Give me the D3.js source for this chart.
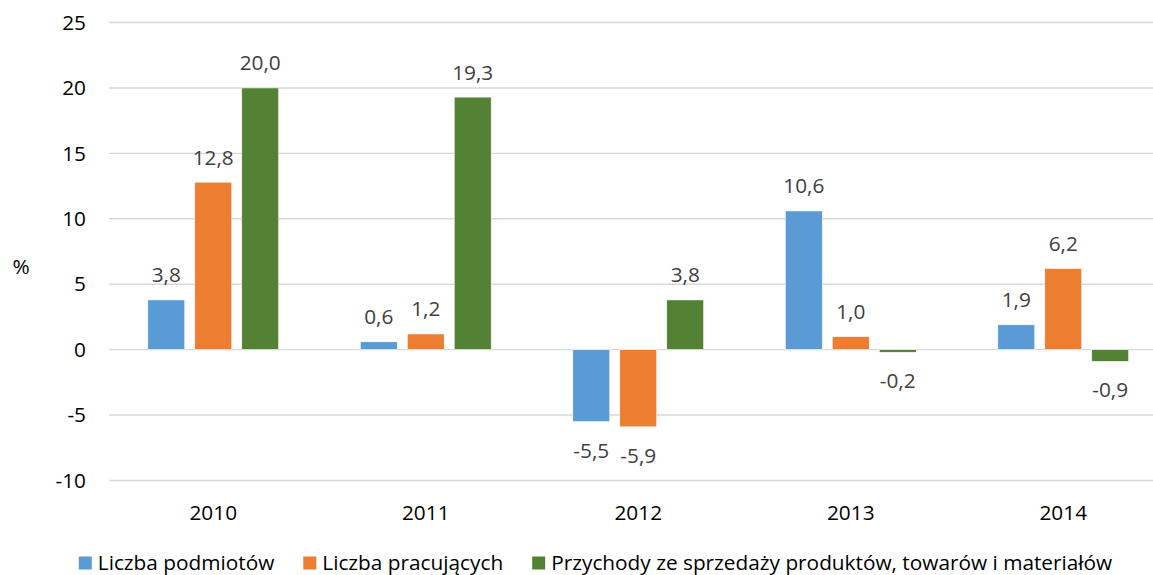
<!DOCTYPE html>
<html>
<head>
<meta charset="utf-8">
<script src="https://cdn.jsdelivr.net/npm/d3@7"></script>
<style>
  body { margin: 0; background: #fff; }
  svg { display: block; font-family: "Open Sans", sans-serif; }
</style>
</head>
<body>
<div id="chart"></div>
<script>
var years = ['2010', '2011', '2012', '2013', '2014'];
var seriesNames = ['Liczba podmiotów', 'Liczba pracujących', 'Przychody ze sprzedaży produktów, towarów i materiałów'];
var podmioty = [3.8, 0.6, -5.5, 10.6, 1.9];
var pracujacy = [12.8, 1.2, -5.9, 1.0, 6.2];
var przychody = [20.0, 19.3, 3.8, -0.2, -0.9];
var yTicks = [-10, -5, 0, 5, 10, 15, 20, 25];
var colors = ['#5b9bd5', '#ed7d31', '#548235'];

var svgWidth = 1153;
var svgHeight = 575;
var fontSize = 20.8;

var svg = d3.select('#chart')
  .append('svg')
  .attr('width', svgWidth)
  .attr('height', svgHeight);

// build rows from the arrays
var allSeries = [podmioty, pracujacy, przychody];
var rows = years.map(function(y, i) {
  return {
    year: y,
    values: seriesNames.map(function(s, j) { return { key: s, idx: j, value: allSeries[j][i] }; })
  };
});

// the plot runs past the right edge, like in the original
var x0 = d3.scaleBand()
  .domain(years)
  .range([107, 1169.5])
  .paddingInner(0.384)
  .paddingOuter(0.192);

var x1 = d3.scaleBand()
  .domain(seriesNames)
  .range([0, x0.bandwidth()])
  .paddingInner(0.213);

var y = d3.scaleLinear()
  .domain([-10, 25])
  .range([480.5, 22.5]);

// gridlines
svg.append('g')
  .selectAll('line')
  .data(yTicks)
  .enter()
  .append('line')
  .attr('x1', 109)
  .attr('x2', 1170)
  .attr('y1', d => y(d))
  .attr('y2', d => y(d))
  .attr('stroke', '#d9d9d9')
  .attr('stroke-width', 1.4);

// y axis labels
var leftAxis = d3.axisLeft(y)
  .tickValues(yTicks)
  .tickFormat(d => String(d))
  .tickSize(0)
  .tickPadding(0);
var yAxisG = svg.append('g')
  .attr('transform', 'translate(86, 0)')
  .call(leftAxis);
yAxisG.select('.domain').remove();
yAxisG.selectAll('text')
  .attr('font-size', fontSize)
  .attr('font-family', '"Open Sans", sans-serif')
  .attr('fill', '#000');

// x axis labels
var bottomAxis = d3.axisBottom(x0).tickSize(0).tickPadding(0);
var xAxisG = svg.append('g')
  .attr('transform', 'translate(0, 520)')
  .call(bottomAxis);
xAxisG.select('.domain').remove();
xAxisG.selectAll('text')
  .attr('dy', 0)
  .attr('font-size', fontSize)
  .attr('font-family', '"Open Sans", sans-serif')
  .attr('fill', '#000');

// bars
var groups = svg.append('g')
  .selectAll('g')
  .data(rows)
  .enter()
  .append('g')
  .attr('transform', d => `translate(${x0(d.year)}, 0)`);

groups.selectAll('rect')
  .data(d => d.values)
  .enter()
  .append('rect')
  .attr('x', d => x1(d.key))
  .attr('width', x1.bandwidth())
  .attr('y', d => y(Math.max(0, d.value)))
  .attr('height', d => Math.abs(y(d.value) - y(0)))
  .attr('fill', d => colors[d.idx])
  .attr('stroke', '#fff')
  .attr('stroke-width', 0.6);

// data labels
groups.selectAll('text.val')
  .data(d => d.values)
  .enter()
  .append('text')
  .attr('class', 'val')
  .attr('x', d => x1(d.key) + x1.bandwidth() / 2)
  .attr('y', d => d.value >= 0 ? y(d.value) - 17.5 : y(d.value) + 36)
  .attr('text-anchor', 'middle')
  .attr('font-size', fontSize)
  .attr('fill', '#404040')
  .text(d => d3.format('.1f')(d.value).replace('.', ',').replace('−', '-'));

// y title
svg.append('text')
  .attr('x', 21)
  .attr('y', 274)
  .attr('text-anchor', 'middle')
  .attr('font-size', fontSize)
  .attr('fill', '#000')
  .text('%');

// legend
var legend = svg.append('g');
var items = legend.selectAll('g')
  .data(seriesNames)
  .enter()
  .append('g');
items.append('rect')
  .attr('width', 13)
  .attr('height', 13)
  .attr('y', 556.5)
  .attr('fill', (d, i) => colors[i]);
items.append('text')
  .attr('x', 19)
  .attr('y', 569.5)
  .attr('font-size', fontSize)
  .attr('fill', '#000')
  .text(d => d);

var pos = 0;
items.each(function() {
  var g = d3.select(this);
  g.attr('transform', `translate(${pos}, 0)`);
  pos += 19 + g.select('text').node().getComputedTextLength() + 29;
});
var legendWidth = pos - 29;
legend.attr('transform', `translate(${595.5 - legendWidth / 2}, 0)`);
</script>
</body>
</html>
